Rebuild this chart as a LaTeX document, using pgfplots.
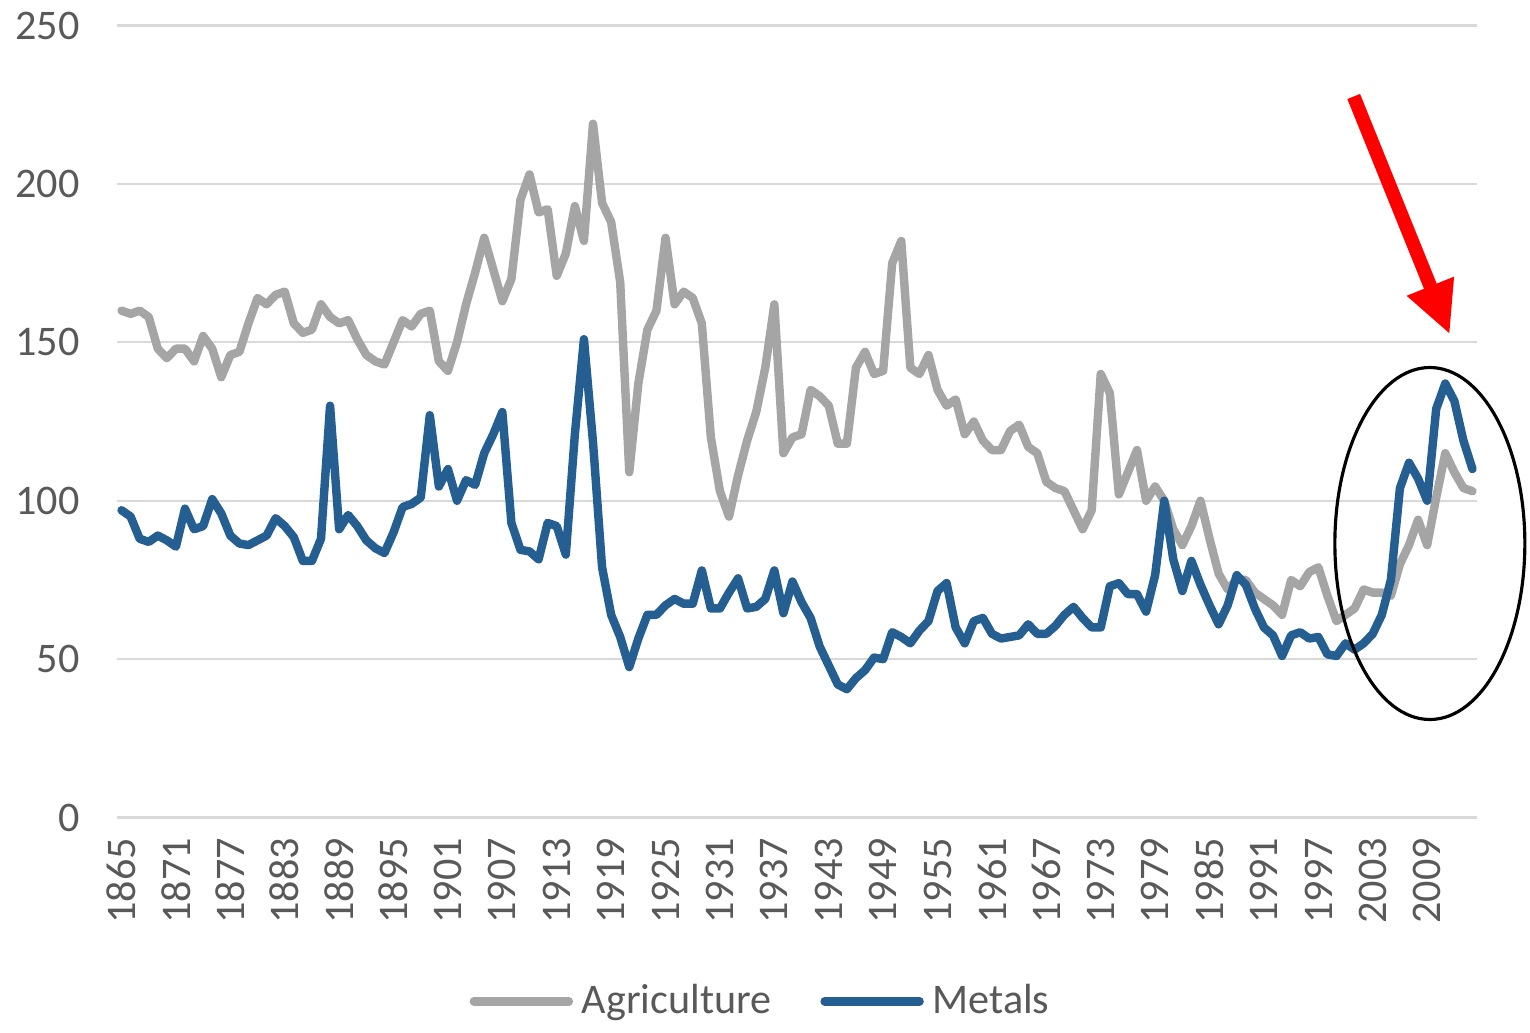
\documentclass[border=0pt]{standalone}
\usepackage{fontspec}
\setmainfont{Carlito}
\usepackage{pgfplots}
\pgfplotsset{compat=1.18}
\usetikzlibrary{arrows.meta}

\definecolor{agri}{HTML}{A5A5A5}
\definecolor{metal}{HTML}{255E91}
\definecolor{lbl}{HTML}{595959}
\definecolor{gridc}{HTML}{D9D9D9}

% year, agriculture, metals
\pgfplotstableread{
year agr met
1865 160 97
1866 159 95
1867 160 88
1868 158 87
1869 148 89
1870 145 87.5
1871 148 85.5
1872 148 97.5
1873 144 91
1874 152 92
1875 148 100.5
1876 139 96
1877 146 89
1878 147 86.5
1879 156 86
1880 164 87.5
1881 162 89
1882 165 94.5
1883 166 92
1884 156 88.5
1885 153 81
1886 154 81
1887 162 88
1888 158 130
1889 156 91
1890 157 95.5
1891 151 92
1892 146 87.5
1893 144 85
1894 143 83.5
1895 150 90
1896 157 98
1897 155 99
1898 159 101
1899 160 127
1900 144 104.5
1901 141 110
1902 150 100
1903 162 106.5
1904 172 105
1905 183 115
1906 173 121
1907 163 128
1908 170 93
1909 195 84.5
1910 203 84
1911 191 81.5
1912 192 93
1913 171 92
1914 178 83
1915 193 121
1916 182 151
1917 219 118.5
1918 194 79
1919 188 64
1920 169 57
1921 109 47.5
1922 137 56.5
1923 154 64
1924 160 64
1925 183 67
1926 162 69
1927 166 67.5
1928 164 67.5
1929 156 78
1930 120 66
1931 103 66
1932 95 71
1933 108 75.5
1934 119 66
1935 128 66.5
1936 142 69
1937 162 78
1938 115 64.5
1939 120 74.5
1940 121 68
1941 135 63
1942 133 54
1943 130 48
1944 118 42
1945 118 40.5
1946 142 44
1947 147 46.5
1948 140 50.5
1949 141 50
1950 175 58.5
1951 182 57
1952 142 55
1953 140 59
1954 146 62
1955 135 71.5
1956 130 74
1957 132 60
1958 121 55
1959 125 62
1960 119 63
1961 116 58
1962 116 56.5
1963 122 57
1964 124 57.5
1965 117 61
1966 115 58
1967 106 58
1968 104 60.5
1969 103 64
1970 97 66.5
1971 91 63
1972 97 60
1973 140 60
1974 134 73
1975 102 74
1976 109 70.5
1977 116 70.5
1978 100 65
1979 104.5 76.5
1980 100 100
1981 91 81.5
1982 86 71.5
1983 92 81
1984 100 73.5
1985 88 67
1986 77 61
1987 72 67
1988 75 76.5
1989 75 73.5
1990 71 66
1991 69 60
1992 67 57.5
1993 64 51
1994 75 57.5
1995 73 58.5
1996 77.5 56.5
1997 79 57
1998 70 51.5
1999 62 51
2000 64 55
2001 66 53
2002 72 55
2003 71 58
2004 71 64
2005 70 75
2006 80 104
2007 86 112
2008 94 107
2009 86 100
2010 101 129
2011 115 137
2012 109 131.5
2013 104 119
2014 103 110
}\prices

\begin{document}
\begin{tikzpicture}
\begin{axis}[
    scale only axis,
    width=13.6cm, height=7.92cm,
    xmin=1864.5, xmax=2014.5,
    ymin=0, ymax=250,
    xtick={1865,1871,...,2009},
    ytick={0,50,...,250},
    axis line style={draw=none},
    major tick length=0pt,
    ymajorgrids,
    grid style={gridc, line width=0.6pt},
    /pgf/number format/1000 sep={},
    /pgf/number format/assume math mode=true,
    ticklabel style={font=\fontsize{12}{14}\selectfont, text=lbl},
    xticklabel style={rotate=90, anchor=east},
    xticklabel shift=0.08cm,
    yticklabel shift=0.25cm,
    clip=false,
    legend columns=2,
    legend style={at={(0.4757,-0.232)}, anchor=center, draw=none,
        font=\fontsize{12}{14}\selectfont, text=lbl,
        /tikz/every even column/.append style={column sep=0.4cm},
        nodes={inner xsep=2.5pt}},
    legend image code/.code={\draw[#1] (0cm,0cm) -- (0.95cm,0cm);},
]
\addplot[agri, line width=2.4pt, line join=round, line cap=round] table[x=year, y=agr] {\prices};
\addlegendentry{Agriculture}
\addplot[metal, line width=2.4pt, line join=round, line cap=round] table[x=year, y=met] {\prices};
\addlegendentry{Metals}

% annotations
\draw[black, line width=0.9pt] (axis cs:2009.3,86.5) ellipse [x radius=0.95cm, y radius=1.76cm];
\draw[red, line width=3.9pt, -{Triangle[width=0.47cm, length=0.52cm]}]
    (axis cs:2000.9,227.6) -- (axis cs:2011.5,152.5);
\end{axis}
\path (current axis.south west) ++(-1.17cm,-2.06cm) (current axis.north east) ++(0.53cm,0.24cm);
\end{tikzpicture}
\end{document}
